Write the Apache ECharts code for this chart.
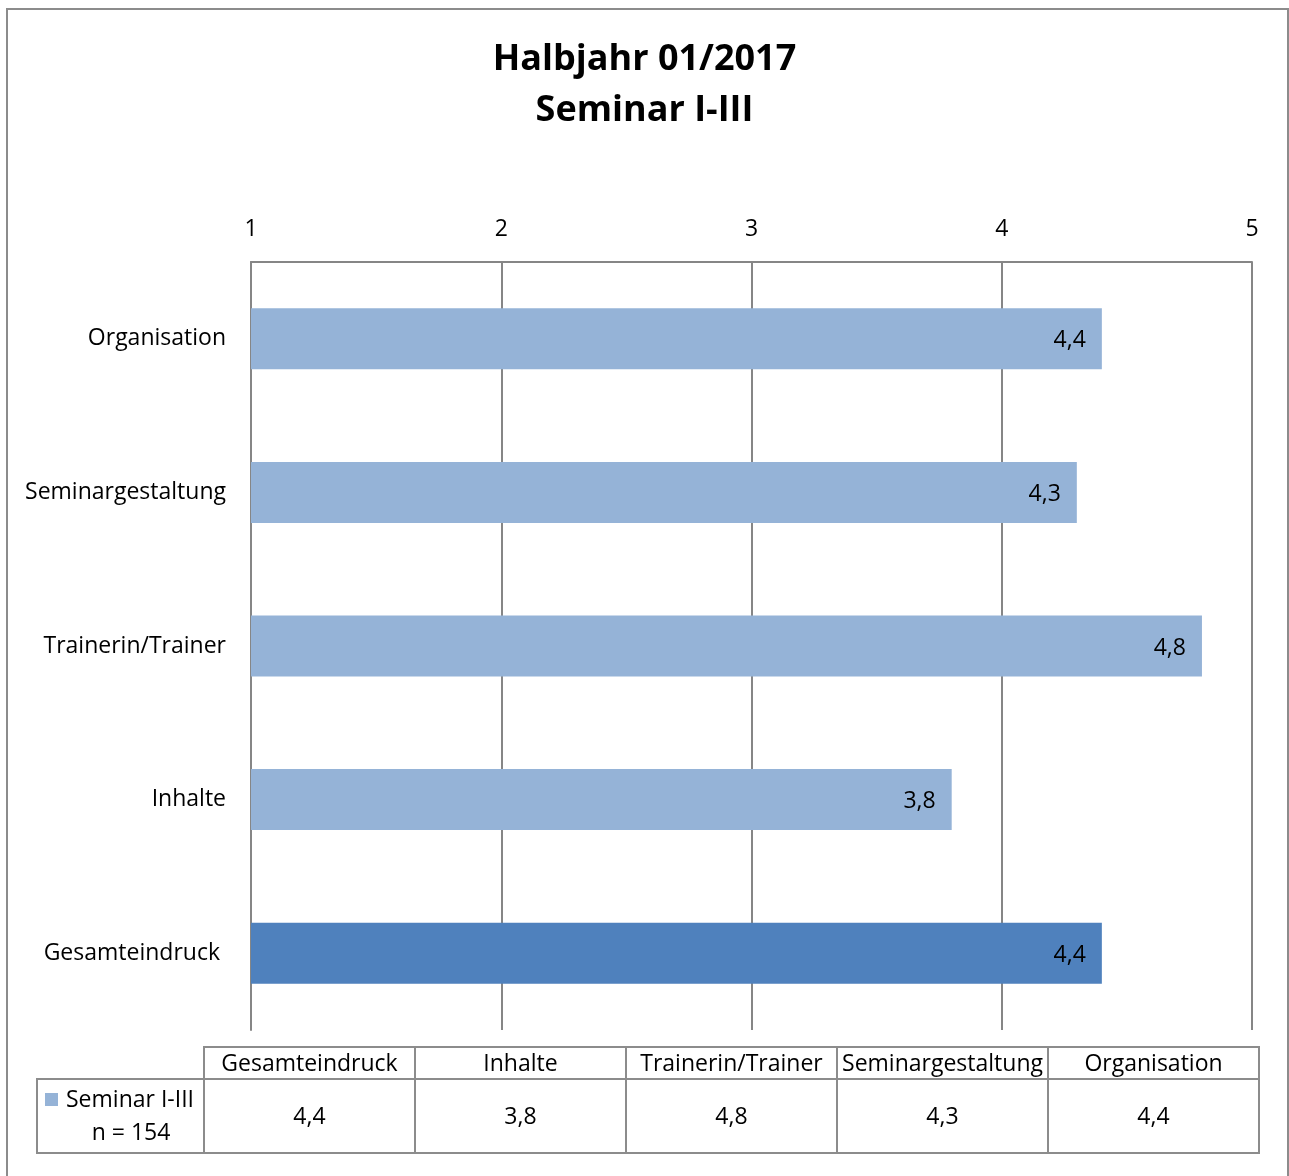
<!DOCTYPE html>
<html>
<head>
<meta charset="utf-8">
<script src="https://cdn.jsdelivr.net/npm/echarts@6/dist/echarts.min.js"></script>
<style>
html,body{margin:0;padding:0;background:#fff;}
#chart{width:1289px;height:1176px;}
</style>
</head>
<body>
<div id="chart"></div>
<script>
const titleLines = ['Halbjahr 01/2017', 'Seminar I-III'];
const categories = ['Gesamteindruck', 'Inhalte', 'Trainerin/Trainer', 'Seminargestaltung', 'Organisation'];
const values = [4.4, 3.8, 4.8, 4.3, 4.4];
const tickValues = [1, 2, 3, 4, 5];
const seriesName = 'Seminar I-III';
const sampleLabel = 'n = 154';

const FONT = 'Open Sans';
const FS = 23;
const GRID = '#868686';
const LIGHT = '#95B3D7';
const DARK = '#4F81BD';
const fmt = v => String(v).replace('.', ',');

const chart = echarts.init(document.getElementById('chart'));

// data table geometry
const tblLeft = 37, colStart = 204, colW = 211, hdrTop = 1047, hdrH = 32, rowH = 74;
const tblEls = [];
const lineStyle = {stroke: '#8c8c8c', lineWidth: 2, fill: null};
const font = FS + 'px "' + FONT + '"';
categories.forEach((c, i) => {
  const x = colStart + i * colW;
  tblEls.push({type: 'rect', shape: {x: x, y: hdrTop, width: colW, height: hdrH}, style: lineStyle, silent: true});
  tblEls.push({type: 'rect', shape: {x: x, y: hdrTop + hdrH, width: colW, height: rowH}, style: lineStyle, silent: true});
  tblEls.push({type: 'text', x: x + colW / 2, y: hdrTop + hdrH / 2 + 1,
    style: {text: c, font: font, fill: '#000', textAlign: 'center', textVerticalAlign: 'middle'}});
  tblEls.push({type: 'text', x: x + colW / 2, y: hdrTop + hdrH + rowH / 2 + 1,
    style: {text: fmt(values[i]), font: font, fill: '#000', textAlign: 'center', textVerticalAlign: 'middle'}});
});
tblEls.push({type: 'rect', shape: {x: tblLeft, y: hdrTop + hdrH, width: colStart - tblLeft, height: rowH}, style: lineStyle, silent: true});
tblEls.push({type: 'rect', shape: {x: 45, y: 1093, width: 13, height: 13}, style: {fill: LIGHT}, silent: true});
tblEls.push({type: 'text', x: 66, y: 1100,
  style: {text: seriesName, font: font, fill: '#000', textAlign: 'left', textVerticalAlign: 'middle'}});
tblEls.push({type: 'text', x: 131, y: 1133,
  style: {text: sampleLabel, font: font, fill: '#000', textAlign: 'center', textVerticalAlign: 'middle'}});

const option = {
  animation: false,
  backgroundColor: '#fff',
  textStyle: {fontFamily: FONT},
  title: titleLines.map((t, i) => ({
    text: t, left: 'center', top: 37 + i * 51,
    textStyle: {fontFamily: FONT, fontSize: 36, fontWeight: 'bold', color: '#000'}
  })),
  grid: {left: 251, right: 37, top: 262, bottom: 146, containLabel: false},
  xAxis: {
    type: 'value', position: 'top', min: tickValues[0], max: tickValues[tickValues.length - 1], interval: 1,
    axisLine: {show: true, lineStyle: {color: GRID, width: 2}},
    axisTick: {show: false},
    axisLabel: {fontSize: FS, color: '#000', margin: 21, fontFamily: FONT},
    splitLine: {show: true, lineStyle: {color: GRID, width: 2}}
  },
  yAxis: {
    type: 'category',
    data: categories.map((c, i) => i === 0 ? {value: c, textStyle: {padding: [8, 6, 0, 0]}} : c),
    axisLine: {show: true, lineStyle: {color: GRID, width: 2}},
    axisTick: {show: false},
    axisLabel: {fontSize: FS, color: '#000', margin: 25, fontFamily: FONT, padding: [8, 0, 0, 0]}
  },
  series: [{
    type: 'bar', name: seriesName, barWidth: 61,
    data: values.map((v, i) => ({value: v, itemStyle: {color: i === 0 ? DARK : LIGHT}})),
    label: {show: true, position: 'insideRight', distance: 16, fontSize: FS, color: '#000', fontFamily: FONT,
      offset: [0, 2], formatter: p => fmt(p.value)}
  }],
  graphic: [
    {type: 'rect', shape: {x: 7, y: 9, width: 1281, height: 1180}, style: {fill: null, stroke: '#8c8c8c', lineWidth: 2}, silent: true, z: 100},
    {type: 'group', children: tblEls}
  ]
};
chart.setOption(option);
</script>
</body>
</html>
